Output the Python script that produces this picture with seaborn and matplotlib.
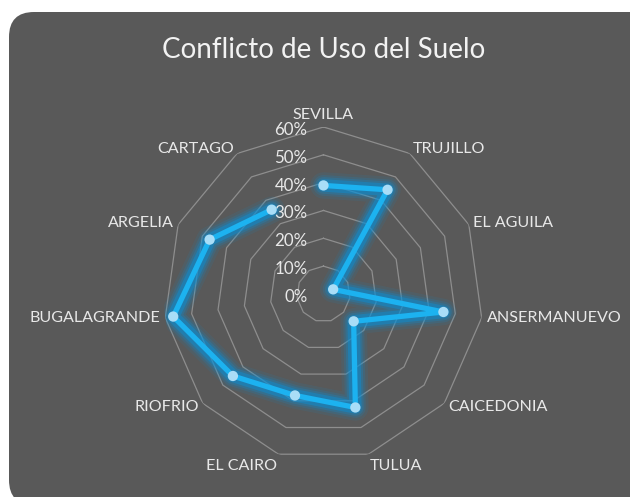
import numpy as np
import pandas as pd
import matplotlib
matplotlib.use("Agg")
import matplotlib.pyplot as plt
import matplotlib.transforms as mtransforms
from matplotlib.patches import FancyBboxPatch
import seaborn as sns

# ---- data ----
categories = ["SEVILLA", "TRUJILLO", "EL AGUILA", "ANSERMANUEVO", "CAICEDONIA",
              "TULUA", "EL CAIRO", "RIOFRIO", "BUGALAGRANDE", "ARGELIA", "CARTAGO"]
values = [0.39, 0.445, 0.04, 0.455, 0.15, 0.425, 0.38, 0.45, 0.57, 0.47, 0.36]
radial_ticks = [0.0, 0.1, 0.2, 0.3, 0.4, 0.5, 0.6]
radial_labels = ["0%", "10%", "20%", "30%", "40%", "50%", "60%"]
title = "Conflicto de Uso del Suelo"

plt.rcParams["font.family"] = ["Lato", "DejaVu Sans"]

BG = "#595959"
TXT = "#e8e8e8"
GRID = "#8e8e8e"
LINE = "#1cb2f0"
GLOW = "#0a8fd6"
MARK = "#a9ddf7"

fig = plt.figure(figsize=(6.3, 4.97), dpi=100, facecolor="white")

# rounded dark panel
panel = FancyBboxPatch((0.09, -0.08), 7.0, 4.93,
                       boxstyle="round,pad=0,rounding_size=0.25",
                       transform=fig.dpi_scale_trans, facecolor=BG,
                       edgecolor="none", zorder=-1)
fig.patches.append(panel)

ax = fig.add_axes([0.2598, 0.0725, 0.5073, 0.672], projection="polar")
ax.set_aspect("auto")
ax.set_facecolor("none")
ax.set_theta_zero_location("N")
ax.set_theta_direction(-1)
ax.set_ylim(0, 0.6)
ax.grid(False)
ax.set_xticks([])
ax.set_yticks([])
ax.spines["polar"].set_visible(False)

n = len(categories)
theta = np.arange(n) * 2 * np.pi / n
theta_closed = np.append(theta, theta[0])

# polygon grid
for r in radial_ticks[1:]:
    ax.plot(theta_closed, [r] * (n + 1), color=GRID, lw=0.9, zorder=1)

df = pd.DataFrame({"theta": np.append(theta, theta[0]),
                   "value": values + values[:1]})

# glow layers
for lw, a in [(19, 0.10), (15, 0.16), (12, 0.25), (9, 0.45)]:
    sns.lineplot(data=df, x="theta", y="value", sort=False, ax=ax,
                 color=GLOW, linewidth=lw, alpha=a, zorder=2,
                 solid_joinstyle="round", solid_capstyle="round")
sns.lineplot(data=df, x="theta", y="value", sort=False, ax=ax,
             color=LINE, linewidth=3.8, zorder=3,
             solid_joinstyle="round", solid_capstyle="round")
sns.scatterplot(data=df.iloc[:-1], x="theta", y="value", ax=ax,
                color=MARK, s=55, edgecolor="none", zorder=4)
ax.set_xlabel("")
ax.set_ylabel("")
ax.set_ylim(0, 0.6)

# category labels
rmax = radial_ticks[-1]
for t, lab in zip(theta, categories):
    s, c = np.sin(t), np.cos(t)
    if s > 0.05:
        ha = "left"
    elif s < -0.05:
        ha = "right"
    else:
        ha = "center"
    if c > 0.9:
        va = "bottom"
    elif c < -0.9:
        va = "top"
    else:
        va = "center"
    tr = mtransforms.offset_copy(ax.transData, fig=fig, x=5 * s, y=5 * c, units="dots")
    ax.text(t, rmax, lab, ha=ha, va=va, transform=tr, color=TXT,
            fontsize=11.6, clip_on=False)

# radial tick labels
tr_r = mtransforms.offset_copy(ax.transData, fig=fig, x=-16, y=-3, units="dots")
for r, lab in zip(radial_ticks, radial_labels):
    ax.text(0, r, lab, ha="right", va="center", transform=tr_r,
            color=TXT, fontsize=12.2, clip_on=False)

fig.text(0.514, 1 - 50 / 497, title, ha="center", va="center",
         color="#f2f2f2", fontsize=20)

fig.savefig("out.png", dpi=100, facecolor="white")
